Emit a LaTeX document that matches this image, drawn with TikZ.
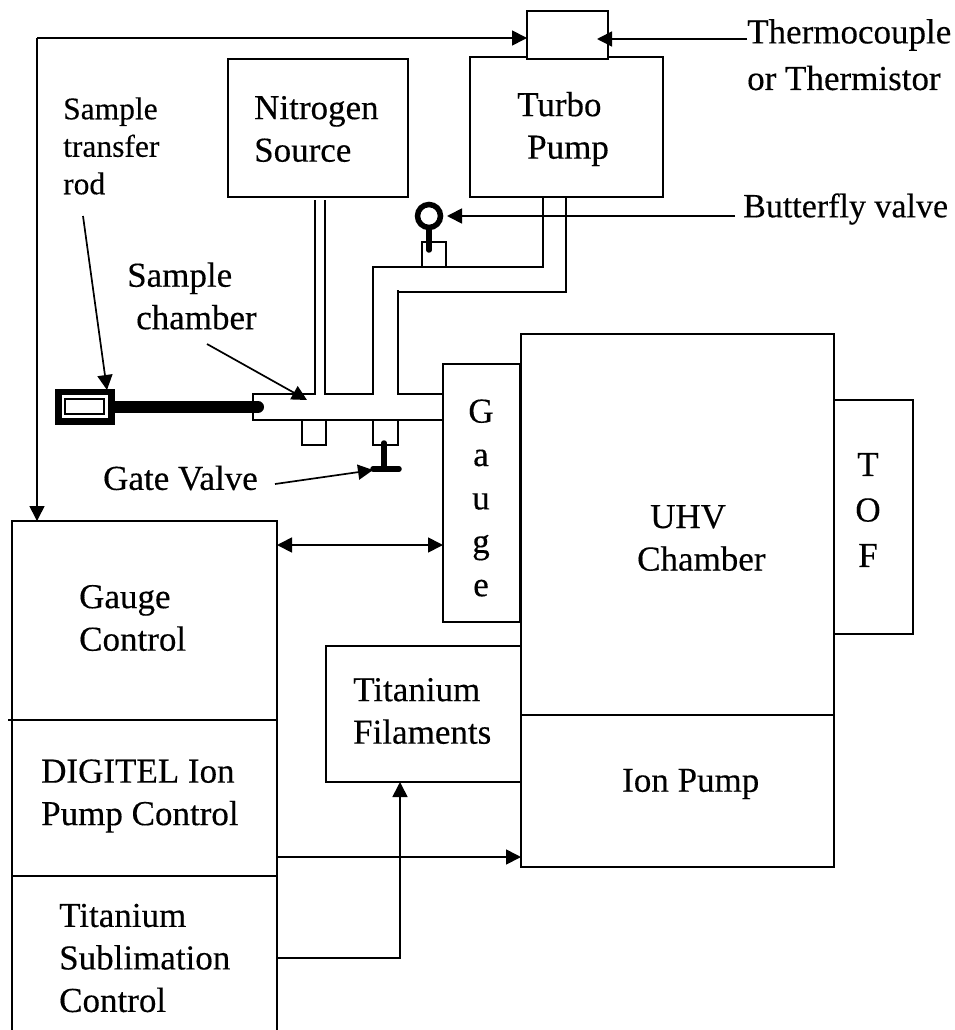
\documentclass[tikz,border=0pt]{standalone}
\usepackage{fontspec}
\setmainfont[FakeBold=0.3]{Liberation Serif}
\usetikzlibrary{arrows.meta}
\tikzset{
  x=1pt,y=-1pt,
  line/.style={draw=black,line width=1.7pt},
  arr/.style={line,-{Triangle[length=15pt,width=15pt]}},
  darr/.style={line,{Triangle[length=15pt,width=15pt]}-{Triangle[length=15pt,width=15pt]}},
  thick5/.style={draw=black,line width=5.5pt,line cap=round},
  lbl/.style={inner sep=0pt,align=left,anchor=west,font=\fontsize{35}{42.5}\selectfont,text=black},
  lsm/.style={inner sep=0pt,align=left,anchor=west,font=\fontsize{31.5}{37.5}\selectfont,text=black},
}
\begin{document}
\begin{tikzpicture}
\useasboundingbox (0,0) rectangle (954,1030);
% named points
\coordinate (topW) at (527,38); \coordinate (topE) at (597,39);
\coordinate (busT) at (37,38); \coordinate (ctrlTop) at (37,521);
\coordinate (thermoEnd) at (747,39);
\coordinate (bvEnd) at (735,216); \coordinate (bvTip) at (447,216);
% chamber pipes
\draw[line] (315,200) -- (315,394) -- (253,394) -- (253,420) -- (443,420);
\draw[line] (325,200) -- (325,394) -- (373,394) -- (373,267) -- (543,267) -- (543,197);
\draw[line] (566,197) -- (566,292) -- (398,292);
\draw[line] (398,290) -- (398,394) -- (443,394);
% boxes
\draw[line] (470,57) rectangle (663,197);
\draw[line,fill=white] (527,11) rectangle (608,59);
\draw[line] (228,59) rectangle (408,197);
\draw[line] (443,364) rectangle (520,622);
\draw[line] (521,334) rectangle (834,867);
\draw[line] (521,715) -- (834,715);
\draw[line] (834,400) rectangle (913,634);
\draw[line] (521,646) -- (326,646) -- (326,782) -- (521,782);
\draw[line] (302,420) rectangle (326,445);
\draw[line] (373,420) rectangle (398,445);
\draw[line] (422,267) -- (422,242) -- (446,242) -- (446,267);
% control rack
\draw[line] (12,1030) -- (12,521) -- (277,521) -- (277,1030);
\draw[line] (8,720) -- (277,720);
\draw[line] (12,876) -- (277,876);
% valves
\draw[thick5] (429,216) circle (11.5);
\draw[thick5] (429,229) -- (429,250);
\draw[thick5] (384,443) -- (384,469);
\draw[thick5] (373,469) -- (399,469);
% rod
\fill[black] (55,389) rectangle (115,425);
\fill[white] (62,395) rectangle (108,418);
\draw[line] (65,399) rectangle (104,414);
\draw[draw=black,line width=12pt,line cap=round] (115,407) -- (258,407);
% arrows
\draw[arr] (busT) -- (topW);
\draw[arr] (busT) -- (ctrlTop);
\draw[arr] (thermoEnd) -- (topE);
\draw[arr] (bvEnd) -- (bvTip);
\draw[arr] (83,216) -- (107,390);
\draw[arr] (207,344) -- (307,400);
\draw[arr] (275,484) -- (373,470);
\draw[darr] (277,545) -- (443,545);
\draw[arr] (277,857) -- (521,857);
\draw[arr] (277,958) -- (400,958) -- (400,782);
% labels
\node[lbl] (n1) at (254,129) {Nitrogen\\Source};
\node[lbl] (n2) at (517,129) {Turbo\\\hspace*{10pt}Pump};
\node[lbl] (n3) at (747,35) {Thermocouple};
\node[lbl] (n4) at (747,78) {or Thermistor};
\node[lbl,font=\fontsize{34}{42}\selectfont] (n5) at (743,209) {Butterfly valve};
\node[lsm] (n6) at (63,146) {Sample\\transfer\\rod};
\node[lbl] (n7) at (127,296) {Sample\\\hspace*{9pt}chamber};
\node[lbl] (n8) at (103,478) {Gate Valve};
\node[lbl,align=center,anchor=center,font=\fontsize{35}{43.4}\selectfont] (n9) at (481,498) {G\\a\\u\\g\\e};
\node[lbl,align=center,anchor=center,font=\fontsize{35}{45.5}\selectfont] (n11) at (868,510) {T\\O\\F};
\node[lbl] (n10) at (637,538) {\hspace*{13pt}UHV\\Chamber};
\node[lbl] (n12) at (79,618) {Gauge\\Control};
\node[lbl] (n13) at (353,711) {Titanium\\Filaments};
\node[lbl] (n14) at (622,784) {Ion Pump};
\node[lbl] (n15) at (41,796) {DIGITEL Ion\\Pump Control};
\node[lbl] (n16) at (59,958) {Titanium\\Sublimation\\Control};
\end{tikzpicture}
\end{document}
